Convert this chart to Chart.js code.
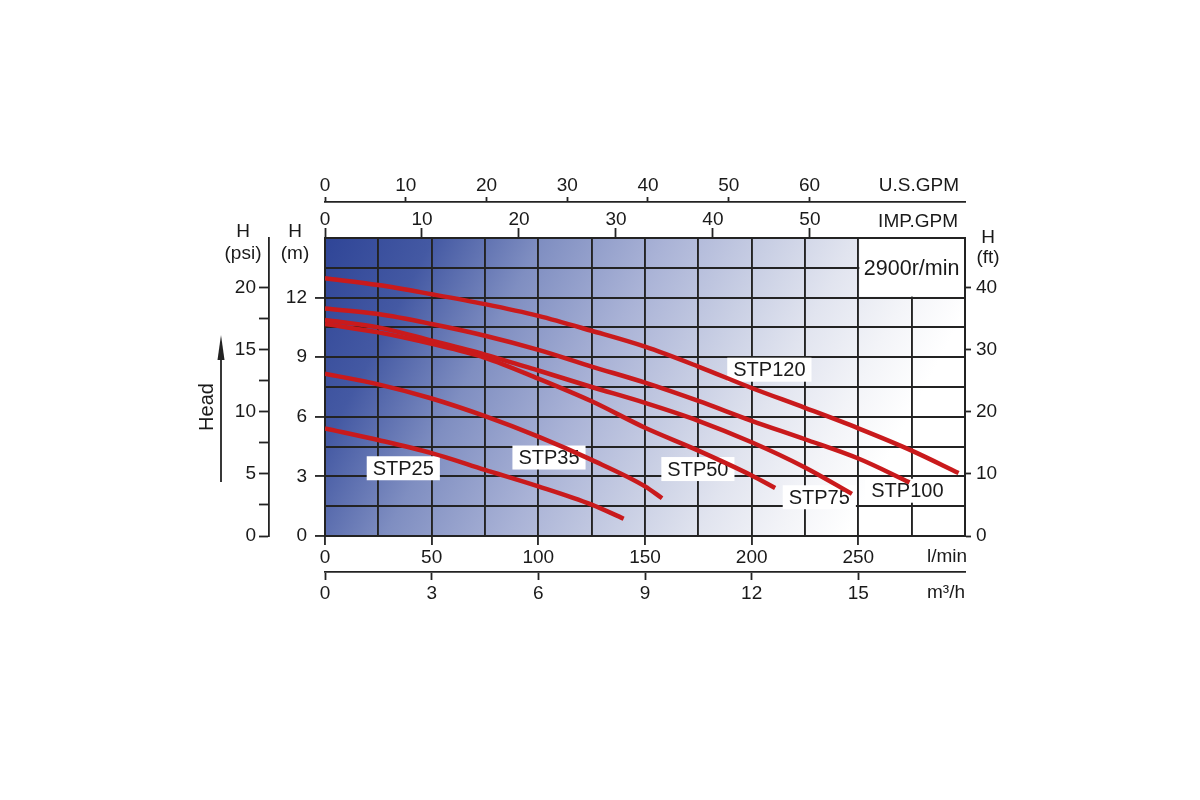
<!DOCTYPE html>
<html>
<head>
<meta charset="utf-8">
<script src="https://cdn.jsdelivr.net/npm/chart.js@4.4.0/dist/chart.umd.min.js"></script>
<style>
html, body { margin: 0; padding: 0; background: #fff; }
#wrap { width: 1200px; height: 800px; position: relative; }
</style>
</head>
<body>
<div id="wrap"><canvas id="curvas"></canvas></div>
<script>
// caudal (l/min) y altura (m) de cada bomba
const Q_STP25 = [0, 25, 50, 75, 100, 125, 140];
const H_STP25 = [5.42, 4.83, 4.17, 3.33, 2.5, 1.58, 0.87];

const Q_STP35 = [0, 25, 50, 75, 100, 125, 150, 158];
const H_STP35 = [8.17, 7.63, 6.92, 6.03, 5.0, 3.83, 2.5, 1.9];

const Q_STP50 = [0, 25, 50, 75, 100, 125, 150, 175, 200, 211];
const H_STP50 = [10.67, 10.25, 9.67, 8.97, 7.92, 6.78, 5.45, 4.3, 3.05, 2.42];

const Q_STP75 = [0, 25, 50, 75, 100, 125, 150, 175, 200, 225, 247];
const H_STP75 = [10.87, 10.5, 9.83, 9.13, 8.33, 7.5, 6.7, 5.8, 4.72, 3.45, 2.12];

const Q_STP100 = [0, 25, 50, 75, 100, 125, 150, 175, 200, 225, 250, 274];
const H_STP100 = [11.45, 11.17, 10.67, 10.08, 9.37, 8.53, 7.72, 6.8, 5.8, 4.87, 3.9, 2.7];

const Q_STP120 = [0, 25, 50, 75, 100, 125, 150, 175, 200, 225, 250, 275, 297];
const H_STP120 = [12.97, 12.63, 12.17, 11.67, 11.08, 10.33, 9.53, 8.53, 7.45, 6.45, 5.42, 4.3, 3.17];

const BOMBAS = ["STP25", "STP35", "STP50", "STP75", "STP100", "STP120"];
const Q_LIST = [Q_STP25, Q_STP35, Q_STP50, Q_STP75, Q_STP100, Q_STP120];
const H_LIST = [H_STP25, H_STP35, H_STP50, H_STP75, H_STP100, H_STP120];

// etiquetas de los ejes
const LMIN_TICKS = [0, 50, 100, 150, 200, 250];
const M3H_TICKS = [0, 3, 6, 9, 12, 15];
const USGPM_TICKS = [0, 10, 20, 30, 40, 50, 60];
const IMPGPM_TICKS = [0, 10, 20, 30, 40, 50];
const HM_TICKS = [0, 3, 6, 9, 12];
const PSI_TICKS = [0, 5, 10, 15, 20];
const FT_TICKS = [0, 10, 20, 30, 40];

const Q_MAX = 300;
const H_MAX = 15;
const PSI_MAX = 24;
const FT_MAX = 48;

const ROJO = "#c91a1c";
const LINEA = "#232323";
const TEXTO = "#1a1a1a";
const FUENTE = '"Liberation Sans", Arial, sans-serif';
const INVISIBLE = "rgba(0,0,0,0)";

Chart.defaults.font.family = FUENTE;
Chart.defaults.font.size = 19;
Chart.defaults.color = TEXTO;

// posicion de cada rotulo (en l/min y m)
const ROTULOS = [
    { t: "STP25", q: 36.7, h: 3.41 },
    { t: "STP35", q: 105, h: 3.95 },
    { t: "STP50", q: 174.8, h: 3.37 },
    { t: "STP75", q: 231.7, h: 1.95 },
    { t: "STP100", q: 273, h: 2.28 },
    { t: "STP120", q: 208.3, h: 8.37 }
];

const fijos = (lista) => (scale) => { scale.ticks = lista.map(v => ({ value: v })); };

// ====== fondo degradado y recuadros ======
const fondo = {
    id: "fondo",
    beforeDraw(chart) {
        const { ctx, chartArea: a } = chart;
        const w = a.right - a.left, h = a.bottom - a.top;
        const g = ctx.createLinearGradient(a.left, a.top, a.left + 0.83 * w, a.top + 0.94 * h);
        g.addColorStop(0, "#2f4597");
        g.addColorStop(0.16, "#4459a3");
        g.addColorStop(0.32, "#7f8ec1");
        g.addColorStop(0.5, "#a9b2d6");
        g.addColorStop(0.66, "#c9cfe4");
        g.addColorStop(0.78, "#e1e4ef");
        g.addColorStop(0.9, "#f3f4f8");
        g.addColorStop(1, "#ffffff");
        ctx.save();
        ctx.fillStyle = g;
        ctx.fillRect(a.left, a.top, w, h);
        ctx.restore();
    },
    beforeDatasetsDraw(chart) {
        const { ctx, scales: s } = chart;
        ctx.save();
        // recuadro de la velocidad
        const x0 = s.x.getPixelForValue(250) + 1, x1 = s.x.getPixelForValue(Q_MAX) - 1;
        const y0 = s.y.getPixelForValue(H_MAX) + 1, y1 = s.y.getPixelForValue(12) - 1;
        ctx.fillStyle = "#ffffff";
        ctx.fillRect(x0, y0, x1 - x0, y1 - y0);
        ctx.fillStyle = TEXTO;
        ctx.font = "21.5px " + FUENTE;
        ctx.textAlign = "center";
        ctx.textBaseline = "middle";
        ctx.fillText("2900r/min", (x0 + x1) / 2, (y0 + y1) / 2 + 1);

        ctx.font = "20px " + FUENTE;
        ROTULOS.forEach(r => {
            const cx = s.x.getPixelForValue(r.q), cy = s.y.getPixelForValue(r.h);
            const tw = ctx.measureText(r.t).width + 12;
            ctx.fillStyle = "#ffffff";
            ctx.fillRect(cx - tw / 2, cy - 12, tw, 24);
            ctx.fillStyle = TEXTO;
            ctx.fillText(r.t, cx, cy + 1);
        });
        ctx.restore();
    },
    afterDraw(chart) {
        const { ctx, chartArea: a, scales: s } = chart;
        ctx.save();
        ctx.fillStyle = TEXTO;
        ctx.font = "19px " + FUENTE;
        ctx.textBaseline = "middle";
        ctx.textAlign = "center";
        // titulos de los ejes verticales
        const xm = s.y.left + s.y.width / 2 - 2;
        ctx.fillText("H", xm, a.top - 6);
        ctx.fillText("(m)", xm, a.top + 16);
        const xp = s.psi.right - 26;
        ctx.fillText("H", xp, a.top - 6);
        ctx.fillText("(psi)", xp, a.top + 16);
        const xf = s.ft.left + 23;
        ctx.fillText("H", xf, a.top);
        ctx.fillText("(ft)", xf, a.top + 20);
        // unidades de caudal
        ctx.fillText("l/min", a.right - 18, s.x.top + 21);
        ctx.fillText("m\u00b3/h", a.right - 19, s.x2.top + 21);
        ctx.textAlign = "right";
        ctx.fillText("U.S.GPM", a.right - 6, s.us.bottom - 16);
        ctx.fillText("IMP.GPM", a.right - 7, s.imp.bottom - 16);
        // "Head" con flecha
        const xh = s.psi.left + 17;
        ctx.save();
        ctx.translate(xh, a.top + 169);
        ctx.rotate(-Math.PI / 2);
        ctx.textAlign = "center";
        ctx.font = "20px " + FUENTE;
        ctx.fillText("Head", 0, 0);
        ctx.restore();
        const xa = s.psi.left + 31;
        ctx.strokeStyle = LINEA;
        ctx.lineWidth = 1.8;
        ctx.beginPath();
        ctx.moveTo(xa, a.top + 244);
        ctx.lineTo(xa, a.top + 115);
        ctx.stroke();
        ctx.fillStyle = LINEA;
        ctx.beginPath();
        ctx.moveTo(xa, a.top + 97);
        ctx.lineTo(xa - 3.5, a.top + 122);
        ctx.lineTo(xa + 3.5, a.top + 122);
        ctx.closePath();
        ctx.fill();
        ctx.restore();
    }
};

const ctx = document.getElementById("curvas").getContext("2d");

new Chart(ctx, {
    type: "line",
    data: {
        datasets: BOMBAS.map((nombre, i) => ({
            label: nombre,
            data: Q_LIST[i].map((q, k) => ({ x: q, y: H_LIST[i][k] })),
            borderColor: ROJO,
            borderWidth: 4.5,
            pointRadius: 0,
            fill: false,
            cubicInterpolationMode: "monotone",
            xAxisID: "x",
            yAxisID: "y"
        }))
    },
    options: {
        responsive: true,
        maintainAspectRatio: false,
        animation: false,
        layout: { padding: { left: 190, right: 195, top: 170, bottom: 194 } },
        plugins: {
            legend: { display: false },
            tooltip: { enabled: false }
        },
        scales: {
            x: {
                type: "linear", position: "bottom", weight: 0,
                min: 0, max: Q_MAX,
                ticks: {
                    stepSize: 25, autoSkip: false, maxRotation: 0, padding: 1,
                    callback: (v) => LMIN_TICKS.includes(v) ? String(v) : ""
                },
                grid: {
                    color: LINEA, lineWidth: 1.9, tickLength: 9, tickWidth: 1.8,
                    tickColor: (c) => LMIN_TICKS.includes(c.tick && c.tick.value) ? LINEA : INVISIBLE
                },
                border: { color: LINEA, width: 2 },
                afterFit: (s) => { s.height = 36; }
            },
            x2: {
                type: "linear", position: "bottom", weight: 1,
                min: 0, max: Q_MAX * 60 / 1000,
                afterBuildTicks: fijos(M3H_TICKS),
                ticks: { autoSkip: false, maxRotation: 0, padding: 2 },
                grid: { drawOnChartArea: false, color: LINEA, tickLength: 8, tickWidth: 1.8 },
                border: { color: LINEA, width: 1.8 },
                afterFit: (s) => { s.height = 34; }
            },
            imp: {
                type: "linear", position: "top", weight: 0,
                min: 0, max: Q_MAX / 4.546,
                afterBuildTicks: fijos(IMPGPM_TICKS),
                ticks: { autoSkip: false, maxRotation: 0, padding: -3 },
                grid: { drawOnChartArea: false, color: LINEA, tickLength: 10, tickWidth: 1.8 },
                border: { color: LINEA, width: 2 },
                afterFit: (s) => { s.height = 36; }
            },
            us: {
                type: "linear", position: "top", weight: 1,
                min: 0, max: Q_MAX / 3.785,
                afterBuildTicks: fijos(USGPM_TICKS),
                ticks: { autoSkip: false, maxRotation: 0, padding: 0 },
                grid: { drawOnChartArea: false, color: LINEA, tickLength: 5, tickWidth: 1.8 },
                border: { color: LINEA, width: 1.8 },
                afterFit: (s) => { s.height = 32; }
            },
            y: {
                type: "linear", position: "left", weight: 0,
                min: 0, max: H_MAX,
                ticks: {
                    stepSize: 1.5, autoSkip: false, padding: 8,
                    callback: (v) => HM_TICKS.includes(v) ? String(v) : ""
                },
                grid: {
                    color: LINEA, lineWidth: 1.9, tickLength: 10, tickWidth: 1.8,
                    tickColor: (c) => HM_TICKS.includes(c.tick && c.tick.value) ? LINEA : INVISIBLE
                },
                border: { color: LINEA, width: 2 },
                afterFit: (s) => { s.width = 56; }
            },
            psi: {
                type: "linear", position: "left", weight: 1,
                min: 0, max: PSI_MAX,
                afterBuildTicks: (s) => {
                    s.ticks = PSI_TICKS.flatMap(v => v < 20 ? [v, v + 2.5] : [v]).map(v => ({ value: v }));
                },
                ticks: {
                    autoSkip: false, padding: 3,
                    callback: (v) => PSI_TICKS.includes(v) ? String(v) : ""
                },
                grid: { drawOnChartArea: false, color: LINEA, tickLength: 10, tickWidth: 1.8 },
                border: { color: LINEA, width: 1.8 },
                afterFit: (s) => { s.width = 79; }
            },
            ft: {
                type: "linear", position: "right", weight: 0,
                min: 0, max: FT_MAX,
                afterBuildTicks: fijos(FT_TICKS),
                ticks: { autoSkip: false, padding: 5 },
                grid: { drawOnChartArea: false, color: LINEA, tickLength: 6, tickWidth: 1.8 },
                border: { color: LINEA, width: 2 },
                afterFit: (s) => { s.width = 40; }
            }
        }
    },
    plugins: [fondo]
});
</script>
</body>
</html>
